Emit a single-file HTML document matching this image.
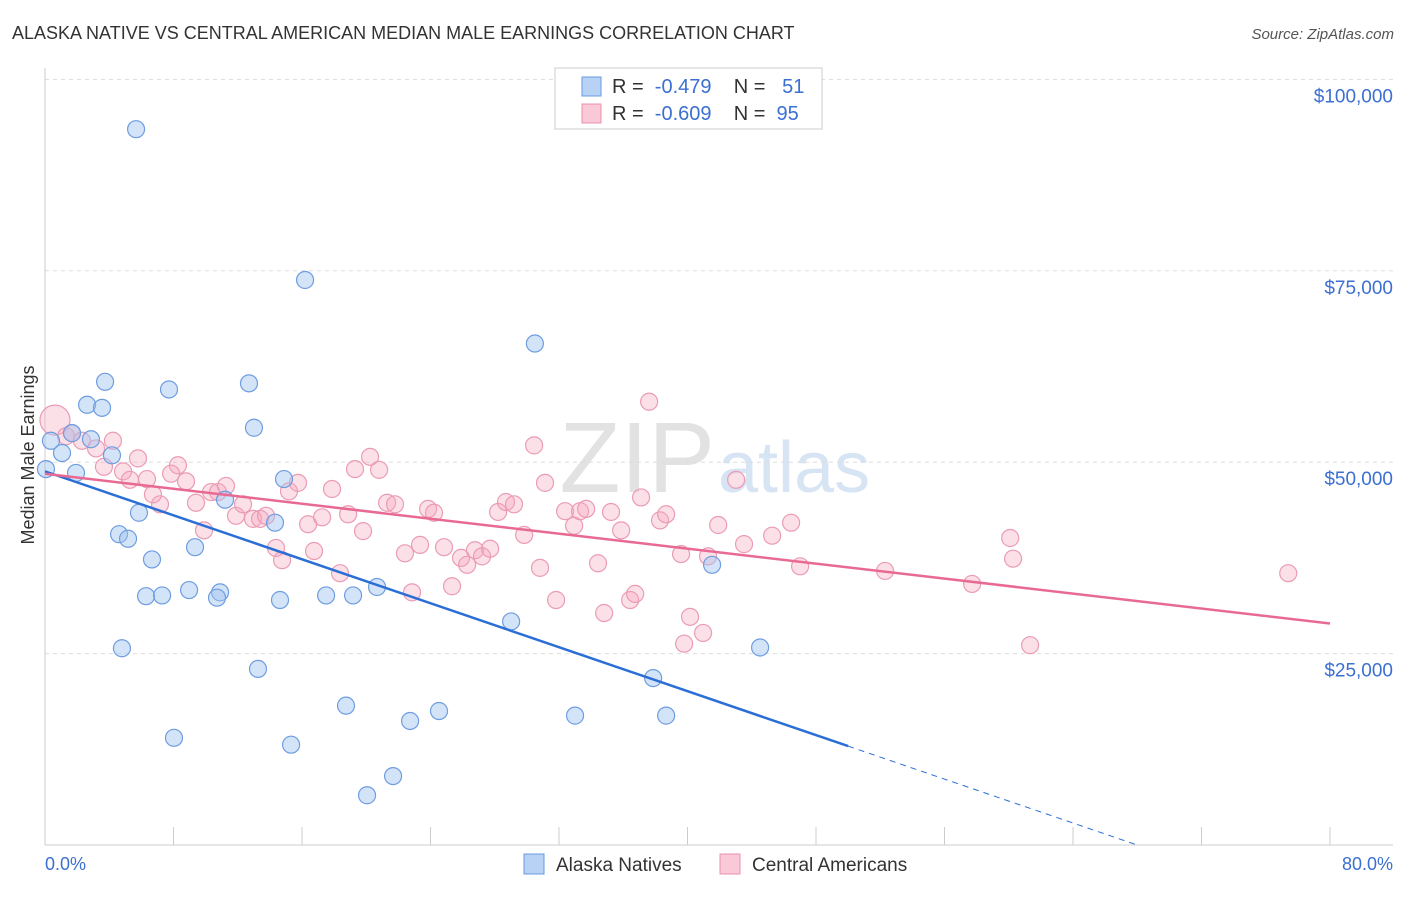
<!DOCTYPE html>
<html><head><meta charset="utf-8"><style>
body{margin:0;background:#fff;font-family:"Liberation Sans",sans-serif;}
svg text{font-family:"Liberation Sans",sans-serif;}
</style></head><body>
<svg id="chart" width="1406" height="892" xmlns="http://www.w3.org/2000/svg">
<text x="12" y="39" font-size="18" fill="#333">ALASKA NATIVE VS CENTRAL AMERICAN MEDIAN MALE EARNINGS CORRELATION CHART</text>
<text x="1394" y="39" font-size="15" fill="#555" font-style="italic" text-anchor="end">Source: ZipAtlas.com</text>
<g><text x="715" y="492" font-size="100" fill="#e2e2e2" text-anchor="end" font-family="Liberation Serif">ZIP</text><text x="718" y="492" font-size="72" fill="#d6e4f3">atlas</text></g>
<g id="grid"></g><g id="axes"></g><g id="marks"></g>
<text x="34" y="455" font-size="18" fill="#333" text-anchor="middle" transform="rotate(-90 34 455)">Median Male Earnings</text>
<text x="45" y="870" font-size="18" fill="#3b6fd1">0.0%</text>
<text x="1393" y="870" font-size="18" fill="#3b6fd1" text-anchor="end">80.0%</text>
<g>
<rect x="555" y="68" width="267" height="61" fill="#fff" stroke="#ccc"/>
<rect x="582" y="77" width="19" height="19" fill="#b7d2f5" stroke="#6a9ae0"/>
<rect x="582" y="104" width="19" height="19" fill="#f9c9d7" stroke="#e990ad"/>
<text x="612" y="93" font-size="20" fill="#333" xml:space="preserve">R =  <tspan fill="#3b6fd1">-0.479</tspan>    N =  <tspan fill="#3b6fd1"> 51</tspan></text>
<text x="612" y="120" font-size="20" fill="#333" xml:space="preserve">R =  <tspan fill="#3b6fd1">-0.609</tspan>    N =  <tspan fill="#3b6fd1">95</tspan></text>
</g>
<g>
<rect x="524" y="854" width="20" height="20" fill="#b7d2f5" stroke="#6a9ae0"/>
<text x="556" y="871" font-size="19" fill="#333">Alaska Natives</text>
<rect x="720" y="854" width="20" height="20" fill="#f9c9d7" stroke="#e990ad"/>
<text x="752" y="871" font-size="19" fill="#333">Central Americans</text>
</g>
</svg>
<script>
const yTicks=[25000,50000,75000,100000];
const yTickLabels=["$25,000","$50,000","$75,000","$100,000"];
const blueX=[5.67,16.19,30.5,3.74,12.7,7.72,2.62,3.55,13.01,1.68,2.86,0.37,1.06,4.17,0.06,1.93,14.88,11.21,5.85,14.32,4.61,5.17,9.34,6.66,41.53,20.67,8.97,10.9,6.29,7.29,10.71,17.5,19.18,14.63,29.02,4.79,44.52,13.26,37.86,18.74,24.53,22.73,33.0,38.67,8.03,15.32,21.67,20.05];
const blueY=[93500,73800,65500,60500,60300,59500,57500,57100,54500,53800,53000,52800,51200,50900,49100,48600,47800,45100,43400,42100,40600,40000,38900,37300,36600,33700,33300,33000,32500,32600,32300,32600,32600,32000,29200,25700,25800,23000,21800,18200,17500,16200,16900,16900,14000,13100,9000,6500];
const pinkX=[0.62,1.31,1.68,2.3,3.18,4.23,3.67,4.86,5.79,6.35,7.16,5.29,6.72,8.28,7.85,8.78,9.4,9.9,10.34,10.77,11.27,11.89,12.33,12.95,13.39,13.76,14.38,14.76,15.19,15.75,16.38,16.75,17.25,17.87,18.37,18.87,19.3,19.8,20.24,20.8,21.3,21.79,22.41,22.85,23.35,23.85,24.22,24.84,25.34,25.9,26.28,26.77,27.21,27.71,28.21,28.7,29.2,29.83,30.45,30.82,31.13,31.82,32.38,32.94,33.31,33.69,34.43,34.81,35.24,35.87,36.43,36.74,37.11,37.61,38.29,38.67,39.6,39.79,40.16,40.97,41.28,41.91,43.03,43.52,45.27,46.45,47.01,52.3,57.72,60.09,60.27,61.33,77.4];
const pinkY=[55500,53400,53800,52800,51800,52800,49400,48800,50500,47800,44500,47700,45800,49600,48500,47500,44700,41100,46100,46100,46900,43000,44500,42600,42600,43000,38800,37200,46200,47300,41900,38400,42800,46500,35500,43200,49100,41000,50700,49000,44700,44500,38100,33000,39200,43900,43400,38900,33800,37500,36600,38500,37700,38700,43500,44800,44500,40500,52200,36200,47300,32000,43600,41700,43600,43900,36800,30300,43500,41100,32000,32800,45400,57900,42400,43200,38000,26300,29800,27700,37700,41800,47700,39300,40400,42100,36400,35800,34100,40100,37400,26100,35500];
const ns='http://www.w3.org/2000/svg';
const X0=45,X1=1330,Y0=845,YS=191.4/25000;
const xs=v=>X0+(X1-X0)*v/80, ys=v=>Y0-v*YS;
function mk(t,a,p){const e=document.createElementNS(ns,t);for(const k in a)e.setAttribute(k,a[k]);document.getElementById(p).appendChild(e);return e;}
yTicks.forEach((v,i)=>{
 const l=mk('line',{x1:45,x2:1393,y1:ys(v),y2:ys(v),stroke:'#ddd','stroke-dasharray':'4,4'},'grid');
 
 
 const t=mk('text',{x:1393,y:ys(v)+23,'font-size':19,fill:'#3b6fd1','text-anchor':'end'},'grid');
 t.textContent=yTickLabels[i];
 
 
});
const ax=mk('line',{x1:45,x2:45,y1:68,y2:845,stroke:'#ccc'},'axes');


const bx=mk('line',{x1:45,x2:1393,y1:845,y2:845,stroke:'#ccc'},'axes');


for(let i=0;i<=10;i++){
 const tk=mk('line',{x1:xs(i*8),x2:xs(i*8),y1:827,y2:845,stroke:'#ccc'},'axes');
 
 
}
pinkX.forEach((x,i)=>{
 const c=mk('circle',{cx:xs(x),cy:ys(pinkY[i]),r:i==0?15:8.5,fill:'rgba(245,165,190,0.35)',stroke:'#eb9bb5','stroke-width':1.2},'marks');
 
 
});
blueX.forEach((x,i)=>{
 const c=mk('circle',{cx:xs(x),cy:ys(blueY[i]),r:8.5,fill:'rgba(160,195,240,0.45)',stroke:'#6e9de0','stroke-width':1.2},'marks');
 
 
});
function fit(xa,ya){const n=xa.length;let mx=0,my=0;xa.forEach((v,i)=>{mx+=v;my+=ya[i]});mx/=n;my/=n;let sxy=0,sxx=0;xa.forEach((v,i)=>{sxy+=(v-mx)*(ya[i]-my);sxx+=(v-mx)**2});const b=sxy/sxx;return [my-b*mx,b];}
const [ba,bb]=fit(blueX,blueY),[pa,pb]=fit(pinkX,pinkY);
const bl=mk('line',{x1:xs(0),y1:ys(ba),x2:xs(50),y2:ys(ba+bb*50),stroke:'#2b6fd6','stroke-width':2.5},'marks');


const xe=Math.min(80,-ba/bb);
const bd=mk('line',{x1:xs(50),y1:ys(ba+bb*50),x2:xs(xe),y2:ys(ba+bb*xe),stroke:'#2b6fd6','stroke-width':1,'stroke-dasharray':'6,5'},'marks');


const pl=mk('line',{x1:xs(0),y1:ys(pa),x2:xs(80),y2:ys(pa+pb*80),stroke:'#e86a93','stroke-width':2.5},'marks');


</script>
</body></html>
